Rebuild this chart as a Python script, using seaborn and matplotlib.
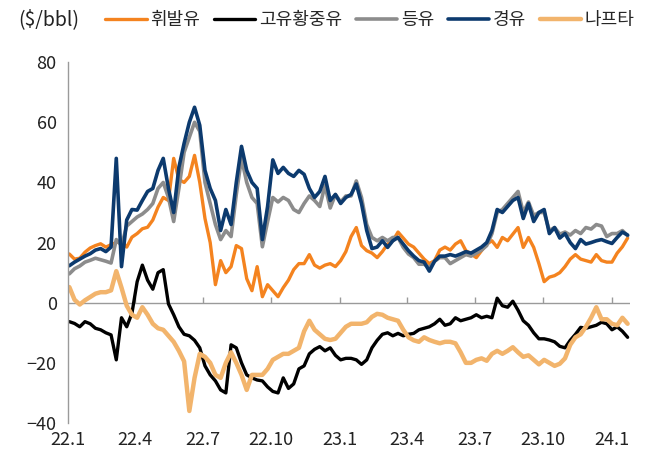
import matplotlib
matplotlib.use("Agg")
import matplotlib.pyplot as plt
import seaborn as sns
import pandas as pd

# Weekly crack spreads ($/bbl), first week of Jan 2022 to late Jan 2024
dates = pd.date_range("2022-01-03", periods=108, freq="7D")

gasoline = [16.2, 14.5, 14.8, 16.8, 18.2, 19, 19.6, 18.5, 19.3, 20, 20.5, 18.5, 21.8, 23, 24.6, 25.1, 27.5, 31.8,
            35, 34, 48, 41, 40, 42, 49, 40, 28, 20, 6, 14, 10, 12, 19, 18, 8, 4,
            12, 2, 6, 4, 2, 5, 7.5, 11, 13, 13, 16, 12.5, 11.5, 12.5, 13, 12, 14, 17, 22,
            25, 19, 17.3, 16.5, 15, 17, 19.5, 20.6, 23.5, 21.5, 19.5, 18.5, 16.5, 14.5, 13, 14, 17.5, 18.5,
            17.5, 19.5, 20.6, 17.3, 16.2, 15, 17.3, 19.5, 20.6, 18.4, 21.7, 20.6, 22.8, 25, 18.4, 21.7, 18.4, 13,
            7, 8.5, 9, 10, 12, 14.5, 16, 14.5, 14, 13.5, 16, 14, 13.5, 13.5, 16.5, 18.6, 21.5]

hsfo = [-6.3, -6.9, -8, -6.3, -7, -8.5, -9, -10, -10.7, -19, -5, -8, -3.5, 7, 12.5, 7.5, 4.5, 10,
        11, -0.4, -4, -8, -10.5, -11, -12.5, -15, -21, -24, -26, -29, -30, -14, -15, -20, -24, -25,
        -25.7, -26, -28, -29.5, -30, -25, -28.5, -27, -22, -21, -17, -15.5, -14.6, -16, -15, -17.5, -19, -18.5, -18.5,
        -19, -20.5, -19, -15, -12.5, -10.5, -10, -11, -10.2, -11, -10.5, -10.2, -9, -8.5, -8, -7, -5.5, -7.5,
        -7, -5, -6, -5.5, -5, -4, -5, -4.5, -5, 1.5, -1, -1.5, 0.5, -2.5, -6, -7.5, -10, -12,
        -12, -12.4, -13, -14.5, -15, -12.5, -10.5, -8.2, -8.5, -8, -7.5, -6.5, -7, -9, -8, -9.5, -11.5]

kerosene = [9.6, 11.3, 12.2, 13.5, 14.1, 14.8, 14.3, 13.8, 13.2, 21, 19, 25.5, 27, 28.5, 29.5, 31, 33, 38,
            40, 35, 27, 38, 50, 55, 60, 57, 40, 33, 26, 21, 24, 22, 36, 48, 40, 35,
            33, 18.6, 27, 35, 33.5, 35, 34, 31, 30, 33, 35.5, 34, 32, 39, 31.5, 36, 33.5, 35.5, 35.5,
            40.5, 35, 26, 21.7, 20.6, 21.7, 20.6, 21.7, 21.7, 18.4, 16.2, 15, 12.8, 12.8, 11.7, 13.8, 15, 15,
            13, 14, 15, 16, 15.5, 16.5, 17.5, 19, 23, 30, 31, 33, 35, 37, 30, 33.5, 29, 30,
            30, 24, 25, 22.8, 23.5, 22.5, 24, 23, 25, 24.5, 26, 25.5, 22, 23, 23, 24, 22.3]

diesel = [12.3, 13.5, 14.5, 15.5, 16.3, 17.5, 18, 17, 18.5, 48, 12, 27.5, 31, 30.8, 34, 37, 38, 44,
          48, 38, 30, 45, 53, 60, 65, 59, 44, 38, 34, 24, 31, 26, 40, 52, 44, 40,
          38, 21, 32, 47.5, 43, 45, 43, 42, 44, 42.7, 38, 35, 37, 42, 34, 36, 33, 35, 36,
          39.5, 33, 24, 18, 18.5, 20.6, 18.4, 20.6, 21.7, 19.5, 17.3, 15.5, 14, 13.5, 10.5, 13.8, 15.5, 15.5,
          16, 15.5, 16.2, 17, 16.5, 17.5, 18.5, 20, 24, 31, 30, 32, 34, 35, 28, 33, 27, 30,
          31, 23, 25, 21.5, 23, 20, 18, 21, 19.5, 20, 20.6, 21, 20.3, 19.7, 21.7, 23.5, 22.5]

naphtha = [5.2, 1, -0.6, 0.8, 1.9, 3, 3.5, 3.5, 4.1, 10.5, 5, -1, -4, -5, -1.5, -4, -7, -8.5,
           -9, -11, -13, -16, -19.5, -36, -25, -17, -18, -20, -24, -25, -20, -16.5, -20, -24, -29, -24,
           -24, -24, -22, -19, -18, -17, -17, -16, -15, -9.5, -6, -9, -10.5, -12, -12.4, -12, -10, -8, -7,
           -7, -7, -6.5, -4.7, -3.7, -4, -5, -5.5, -6, -9, -11.5, -12.5, -13, -11.5, -12.4, -13, -13.5, -13,
           -13, -13.5, -16.5, -20, -20, -19, -18.5, -19.3, -17, -16, -17, -16, -14.8, -16.5, -18, -17.5, -19, -20.5,
           -19, -20, -21, -20.3, -18.5, -14, -11.5, -10.5, -8, -5, -1.5, -5.5, -5.5, -7, -7.5, -5, -7]

names = ["휘발유", "고유황중유", "등유", "경유", "나프타"]
colors = ["#F4831F", "#000000", "#8C8C8C", "#0C3A6E", "#F2B46C"]
widths = [2.4, 2.4, 2.6, 2.6, 3.2]

quarter_ticks = pd.date_range("2022-01-01", "2024-01-01", freq="QS")
quarter_labels = ["22.1", "22.4", "22.7", "22.10", "23.1", "23.4", "23.7", "23.10", "24.1"]

df = pd.DataFrame({"date": dates, "휘발유": gasoline, "고유황중유": hsfo,
                   "등유": kerosene, "경유": diesel, "나프타": naphtha})
long = df.melt(id_vars="date", var_name="series", value_name="value")

sns.set_theme(style="white")
plt.rcParams["font.family"] = ["Noto Sans CJK KR", "DejaVu Sans"]

fig = plt.figure(figsize=(6.46, 4.57), dpi=100)
ax = fig.add_axes([0.105, 0.0744, 0.870, 0.7896])

for name, col, lw in zip(names, colors, widths):
    sns.lineplot(data=long[long["series"] == name], x="date", y="value", color=col,
                 linewidth=lw, ax=ax, label=name, legend=False)

axis_gray = "#9A9A9A"
ax.set_xlim(pd.Timestamp("2022-01-01"), pd.Timestamp("2024-01-25"))
ax.set_ylim(-40, 80)
ax.set_yticks([-40, -20, 0, 20, 40, 60, 80])
ax.set_xticks(quarter_ticks)
ax.set_xticklabels(quarter_labels)
ax.set_xlabel("")
ax.set_ylabel("")

for s in ["top", "right", "bottom"]:
    ax.spines[s].set_visible(False)
ax.spines["left"].set_color(axis_gray)
ax.spines["left"].set_linewidth(1.0)
ax.tick_params(axis="y", direction="in", length=4, width=1, color=axis_gray,
               labelsize=13, pad=8, labelcolor="#222222")
ax.tick_params(axis="x", length=0, labelsize=13, pad=6, labelcolor="#222222")

# zero baseline with short quarter marks
ax.axhline(0, color=axis_gray, lw=1.0, zorder=1)
ax.vlines(quarter_ticks[1:], 0, 2, color=axis_gray, lw=1.0, zorder=1)

handles, labels = ax.get_legend_handles_labels()
fig.legend(handles, labels, loc="center left", bbox_to_anchor=(0.152, 0.956), ncol=5,
           frameon=False, fontsize=13, handlelength=2.3, handletextpad=0.2,
           columnspacing=0.75, borderaxespad=0)
fig.text(0.028, 0.958, "($/bbl)", fontsize=14, va="center", ha="left", color="#222222")

fig.savefig("out.png", dpi=100, facecolor="white")
